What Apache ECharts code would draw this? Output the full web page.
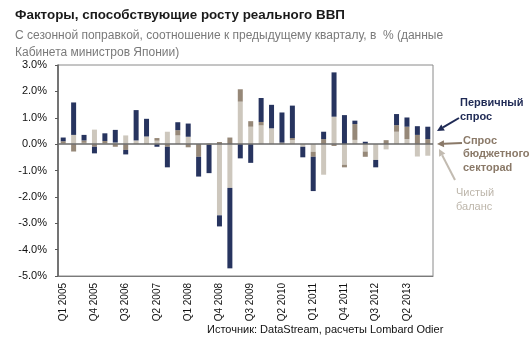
<!DOCTYPE html>
<html><head><meta charset="utf-8">
<script src="https://cdn.jsdelivr.net/npm/echarts@6/dist/echarts.min.js"></script>
<style>html,body{margin:0;padding:0;background:#fff}#c{width:532px;height:342px}</style>
</head><body><div id="c"></div>
<script>
const categories = (function(){const a=[];for(let y=2005;y<=2013;y++){for(let q=1;q<=4;q++)a.push('Q'+q+' '+y);}return a;})();
const netBalance = [0.03,0.35,0.05,0.55,0.04,0.06,0.33,0.14,0.29,0.13,0.47,0.33,0.28,0,0.03,-2.7,-1.66,1.61,0.66,0.71,0.6,0,0.16,-0.1,-0.29,-1.16,1.04,-0.78,0.16,-0.28,-0.6,-0.2,0.47,0.19,-0.47,-0.44];
const govDemand = [0.08,-0.28,0.09,-0.1,0.08,-0.1,-0.22,0,0,0.1,-0.1,0.2,-0.12,-0.48,-0.03,0.08,0.25,0.47,0.21,0.13,0,0.06,0.07,0,-0.19,0.19,-0.07,-0.1,0.6,-0.2,0,0.15,0.25,0.47,0.35,0.19];
const primaryDemand = [0.14,1.23,0.21,-0.25,0.29,0.48,-0.17,1.15,0.67,-0.1,-0.78,0.3,0.5,-0.75,-1.07,-0.42,-3.05,-0.54,-0.71,0.91,0.89,1.14,1.23,-0.4,-1.3,0.28,1.68,1.1,0.13,0.09,-0.28,0,0.42,0.35,0.33,0.47];
const seriesNames = ['Чистый баланс','Спрос бюджетного сектораd','Первичный спрос'];
const yTicks = {min:-5,max:3,interval:1};

const FONT = 'Liberation Sans';
const cNavy='#27345f', cBrown='#968878', cLight='#cdc7bd';
const chart = echarts.init(document.getElementById('c'));
function bar(name,data,color){return {name,type:'bar',stack:'s',data,barWidth:5,itemStyle:{color},emphasis:{disabled:true}};}
function arrow(x1,y1,x2,y2,color){
  const ang=Math.atan2(y2-y1,x2-x1), L=7, W=3.5;
  const bx=x2-L*Math.cos(ang), by=y2-L*Math.sin(ang);
  const px=-Math.sin(ang)*W, py=Math.cos(ang)*W;
  return [
    {type:'line',shape:{x1,y1,x2:bx,y2:by},style:{stroke:color,lineWidth:2}},
    {type:'polygon',shape:{points:[[x2,y2],[bx+px,by+py],[bx-px,by-py]]},style:{fill:color}}
  ];
}
const s0 = bar(seriesNames[0],netBalance,cLight);
s0.markLine = {silent:true,symbol:'none',label:{show:false},lineStyle:{color:'#6b6b6b',type:'solid',width:1.5},data:[{yAxis:0}]};
chart.setOption({
  animation:false,
  textStyle:{fontFamily:FONT},
  title:{left:10,top:4,text:'Факторы, способствующие росту реального ВВП',
    textStyle:{fontFamily:FONT,fontSize:13.4,fontWeight:'bold',color:'#1a1a1a'},
    subtext:'С сезонной поправкой, соотношение к предыдущему кварталу, в  % (данные\nКабинета министров Японии)',
    subtextStyle:{fontFamily:FONT,fontSize:12,color:'#7a7a7a',lineHeight:17},itemGap:5},
  grid:{left:58,right:99,top:65,bottom:66,show:true,borderColor:'#8a8a8a',borderWidth:1,backgroundColor:'transparent'},
  xAxis:{type:'category',data:categories,axisLine:{onZero:false,lineStyle:{color:'#7a7a7a'}},axisTick:{show:false},
    axisLabel:{rotate:90,interval:2,fontSize:10,color:'#111',margin:7,fontFamily:FONT}},
  yAxis:{type:'value',min:yTicks.min,max:yTicks.max,interval:yTicks.interval,
    axisLine:{show:true,lineStyle:{color:'#5a5a5a',width:1.5}},axisTick:{show:true,length:3,lineStyle:{color:'#5a5a5a'}},
    splitLine:{show:false},
    axisLabel:{formatter:v=>v.toFixed(1)+'%',fontSize:11,color:'#111',margin:11,fontFamily:FONT}},
  series:[s0,bar(seriesNames[1],govDemand,cBrown),bar(seriesNames[2],primaryDemand,cNavy)],
  graphic:[
    {type:'text',left:460,top:96,style:{text:'Первичный\nспрос',fill:'#1f2a55',font:'bold 11px "Liberation Sans"',lineHeight:14}},
    {type:'text',left:463,top:134,style:{text:'Спрос\nбюджетного\nсектораd',fill:'#8a7968',font:'bold 11px "Liberation Sans"',lineHeight:13.5}},
    {type:'text',left:456,top:186,style:{text:'Чистый\nбаланс',fill:'#bdb6ab',font:'11px "Liberation Sans"',lineHeight:14}},
    ...arrow(459,118,437,131,'#1f2a55'),
    ...arrow(462,143,437,144,'#8a7968'),
    ...arrow(455,180,439,149,'#c2bbb1'),
    {type:'text',left:207,top:324,style:{text:'Источник: DataStream, расчеты Lombard Odier',fill:'#111',font:'11px "Liberation Sans"'}}
  ]
});
</script></body></html>
